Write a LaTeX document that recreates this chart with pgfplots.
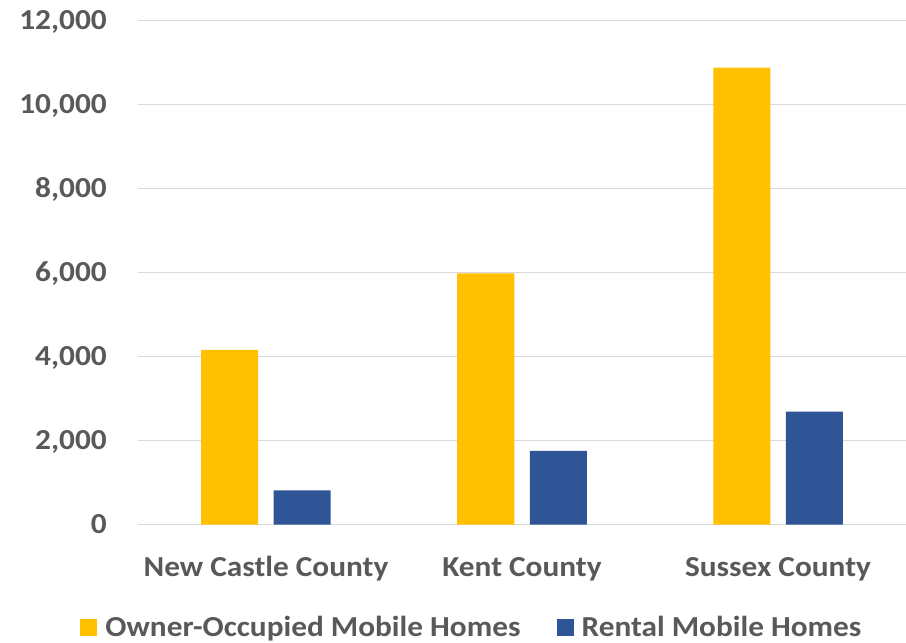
\documentclass[border=0pt]{standalone}
\usepackage{fontspec}
\setmainfont{Carlito}[FakeStretch=1.08]
\usepackage{pgfplots}
\pgfplotsset{compat=1.18}
\definecolor{ownergold}{HTML}{FFC000}
\definecolor{rentalblue}{HTML}{2F5597}
\definecolor{labelgray}{HTML}{595959}
\definecolor{gridgray}{HTML}{D9D9D9}

\begin{document}
\begin{tikzpicture}[font=\fontsize{29}{35}\selectfont\bfseries]
\useasboundingbox (-138pt,-118.5pt) rectangle (768pt,524.5pt);
\begin{axis}[
  scale only axis, width=768pt, height=504pt,
  xmin=-0.5, xmax=2.5, ymin=0, ymax=12000,
  axis line style={draw=none},
  major tick length=0pt,
  ymajorgrids, grid style={gridgray, line width=1.5pt},
  ytick={0,2000,...,12000},
  xtick={0,1,2},
  xticklabels={New Castle County, Kent County, Sussex County},
  yticklabel style={anchor=base east, inner sep=0pt, xshift=-31pt, yshift=-9.3pt,
    text=labelgray,
    /pgf/number format/.cd, 1000 sep={,}, assume math mode=true},
  scaled y ticks=false,
  xticklabel style={anchor=base, inner sep=0pt, yshift=-51.5pt, text=labelgray},
  ybar=15.5pt, bar width=57pt,
  legend columns=2,
  legend style={draw=none, fill=none, inner sep=0pt, outer sep=0pt,
    at={(axis description cs:0.4335,-0.2040)}, anchor=center,
    text=labelgray,
    nodes={inner sep=0pt},
    /tikz/every odd column/.append style={column sep=8pt},
    /tikz/every even column/.append style={column sep=36pt}},
]
\addplot[fill=ownergold, draw=none,
  legend image code/.code={\fill[ownergold] (0pt,-8.5pt) rectangle (17pt,8.5pt);}]
  coordinates {(0,4160) (1,5980) (2,10875)};
\addplot[fill=rentalblue, draw=none,
  legend image code/.code={\fill[rentalblue] (0pt,-8.5pt) rectangle (17pt,8.5pt);}]
  coordinates {(0,810) (1,1755) (2,2690)};
\legend{Owner-Occupied Mobile Homes, Rental Mobile Homes}
\end{axis}
\end{tikzpicture}
\end{document}
